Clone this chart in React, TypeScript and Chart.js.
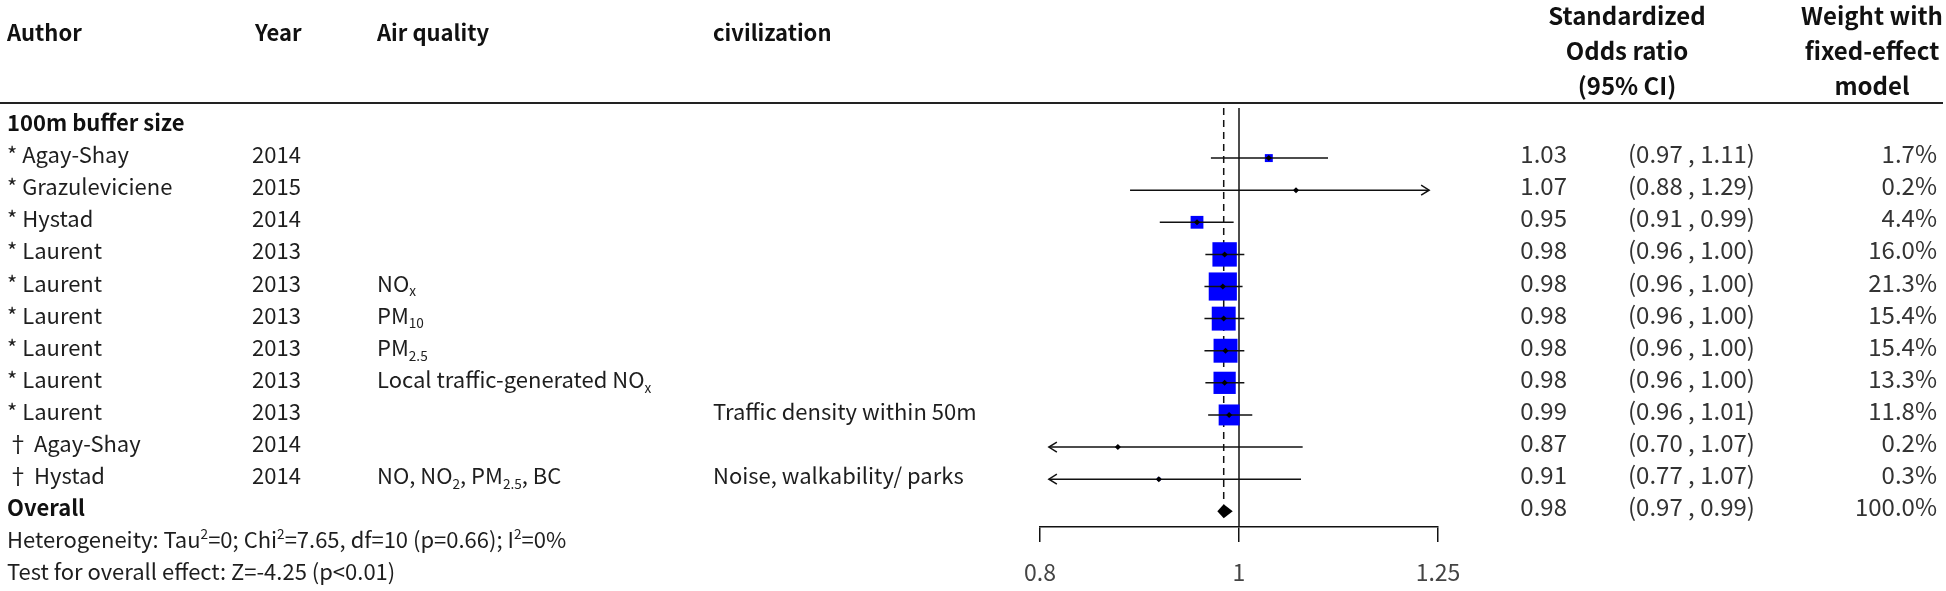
import React, { useEffect, useRef } from "react";
import { Chart, registerables } from "chart.js";

Chart.register(...registerables);

// ---------------- data ----------------
const groupLabel = "100m buffer size";
const authors = [
  "* Agay-Shay",
  "* Grazuleviciene",
  "* Hystad",
  "* Laurent",
  "* Laurent",
  "* Laurent",
  "* Laurent",
  "* Laurent",
  "* Laurent",
  "\u2020 Agay-Shay",
  "\u2020 Hystad",
];
const years = ["2014", "2015", "2014", "2013", "2013", "2013", "2013", "2013", "2013", "2014", "2014"];
const airQuality = [
  "",
  "",
  "",
  "",
  "NO_{x}",
  "PM_{10}",
  "PM_{2.5}",
  "Local traffic-generated NO_{x}",
  "",
  "",
  "NO, NO_{2}, PM_{2.5}, BC",
];
const civilization = ["", "", "", "", "", "", "", "", "Traffic density within 50m", "", "Noise, walkability/ parks"];

// plotted estimates (read from mark positions)
const oddsRatio = [1.034, 1.066, 0.954, 0.984, 0.982, 0.983, 0.985, 0.984, 0.989, 0.873, 0.914];
const ciLower = [0.969, 0.885, 0.915, 0.963, 0.962, 0.962, 0.962, 0.963, 0.966, 0.7, 0.77];
const ciUpper = [1.105, 1.29, 0.994, 1.006, 1.004, 1.006, 1.006, 1.006, 1.015, 1.074, 1.072];
const weights = [1.7, 0.2, 4.4, 16.0, 21.3, 15.4, 15.4, 13.3, 11.8, 0.2, 0.3];

// printed values
const orLabels = ["1.03", "1.07", "0.95", "0.98", "0.98", "0.98", "0.98", "0.98", "0.99", "0.87", "0.91"];
const ciLabels = [
  "(0.97 , 1.11)",
  "(0.88 , 1.29)",
  "(0.91 , 0.99)",
  "(0.96 , 1.00)",
  "(0.96 , 1.00)",
  "(0.96 , 1.00)",
  "(0.96 , 1.00)",
  "(0.96 , 1.00)",
  "(0.96 , 1.01)",
  "(0.70 , 1.07)",
  "(0.77 , 1.07)",
];

const overallLabel = "Overall";
const overallOR = 0.983;
const overallLower = 0.976;
const overallUpper = 0.993;
const overallORLabel = "0.98";
const overallCILabel = "(0.97 , 0.99)";
const overallWeight = 100.0;

const heterogeneityText = "Heterogeneity: Tau^{2}=0; Chi^{2}=7.65, df=10 (p=0.66); I^{2}=0%";
const overallTestText = "Test for overall effect: Z=-4.25 (p<0.01)";

const xTicks = [0.8, 1, 1.25];
const headerLeft = ["Author", "Year", "Air quality", "civilization"];
const headerOR = ["Standardized", "Odds ratio", "(95% CI)"];
const headerWeight = ["Weight with", "fixed-effect", "model"];

// ---------------- style ----------------
const FONT = '"Noto Sans CJK KR", "Noto Sans", sans-serif';
const W = 1946;
const H = 591;
const BOX_SCALE = 6.1;

function parseRich(text: string) {
  const parts: { t: string; k: "n" | "sub" | "sup" }[] = [];
  const re = /(_\{[^}]*\}|\^\{[^}]*\})/g;
  let last = 0;
  let m: RegExpExecArray | null;
  while ((m = re.exec(text))) {
    if (m.index > last) parts.push({ t: text.slice(last, m.index), k: "n" });
    const body = m[0].slice(2, -1);
    parts.push({ t: body, k: m[0][0] === "_" ? "sub" : "sup" });
    last = m.index + m[0].length;
  }
  if (last < text.length) parts.push({ t: text.slice(last), k: "n" });
  return parts;
}

function drawRich(
  ctx: CanvasRenderingContext2D,
  text: string,
  x: number,
  baseline: number,
  size: number,
  color: string,
  weight = "normal",
  align: "left" | "right" | "center" = "left"
) {
  const parts = parseRich(text);
  const small = size * 0.62;
  ctx.save();
  ctx.fillStyle = color;
  ctx.textBaseline = "alphabetic";
  ctx.textAlign = "left";
  const widths = parts.map((p) => {
    ctx.font = `${weight} ${p.k === "n" ? size : small}px ${FONT}`;
    return ctx.measureText(p.t).width;
  });
  const total = widths.reduce((a, b) => a + b, 0);
  let cx = align === "left" ? x : align === "right" ? x - total : x - total / 2;
  parts.forEach((p, i) => {
    ctx.font = `${weight} ${p.k === "n" ? size : small}px ${FONT}`;
    const dy = p.k === "sub" ? size * 0.22 : p.k === "sup" ? -size * 0.42 : 0;
    ctx.fillText(p.t, cx, baseline + dy);
    cx += widths[i];
  });
  ctx.restore();
}

const overallRow = authors.length + 1;

const forestPlugin = {
  id: "forest",
  beforeDatasetsDraw(chart: any) {
    const { ctx, chartArea, scales } = chart;
    const x = scales.x;
    const y = scales.y;
    ctx.save();
    ctx.strokeStyle = "#111";
    ctx.lineWidth = 1.5;
    const x1 = x.getPixelForValue(1);
    ctx.beginPath();
    ctx.moveTo(x1, chartArea.top);
    ctx.lineTo(x1, chartArea.bottom);
    ctx.stroke();
    ctx.setLineDash([7, 5]);
    const xo = x.getPixelForValue(overallOR);
    ctx.beginPath();
    ctx.moveTo(xo, chartArea.top);
    ctx.lineTo(xo, y.getPixelForValue(overallRow) - 7);
    ctx.stroke();
    ctx.restore();
  },
  afterDatasetDraw(chart: any, args: any) {
    if (args.index !== 1) return;
    const { ctx, scales } = chart;
    const x = scales.x;
    const y = scales.y;
    const minV = x.min * 1.01;
    const maxV = x.max / 1.01;
    ctx.save();
    ctx.strokeStyle = "#111";
    ctx.lineWidth = 1.5;
    authors.forEach((_, i) => {
      const py = y.getPixelForValue(i + 1);
      const lo = Math.max(ciLower[i], minV);
      const hi = Math.min(ciUpper[i], maxV);
      const pl = x.getPixelForValue(lo);
      const ph = x.getPixelForValue(hi);
      ctx.beginPath();
      ctx.moveTo(pl, py);
      ctx.lineTo(ph, py);
      ctx.stroke();
      if (ciLower[i] < x.min) {
        ctx.beginPath();
        ctx.moveTo(pl + 8, py - 5);
        ctx.lineTo(pl, py);
        ctx.lineTo(pl + 8, py + 5);
        ctx.stroke();
      }
      if (ciUpper[i] > x.max) {
        ctx.beginPath();
        ctx.moveTo(ph - 8, py - 5);
        ctx.lineTo(ph, py);
        ctx.lineTo(ph - 8, py + 5);
        ctx.stroke();
      }
    });
    ctx.restore();
  },
  afterDatasetsDraw(chart: any) {
    const { ctx, scales } = chart;
    const x = scales.x;
    const y = scales.y;
    const py = y.getPixelForValue(overallRow);
    ctx.save();
    ctx.fillStyle = "#000";
    ctx.beginPath();
    ctx.moveTo(x.getPixelForValue(overallLower), py);
    ctx.lineTo(x.getPixelForValue(overallOR), py - 7);
    ctx.lineTo(x.getPixelForValue(overallUpper), py);
    ctx.lineTo(x.getPixelForValue(overallOR), py + 7);
    ctx.closePath();
    ctx.fill();
    ctx.restore();
  },
  afterDraw(chart: any) {
    const { ctx, scales } = chart;
    const y = scales.y;
    const rowY = (r: number) => y.getPixelForValue(r);
    const HEAD = 24;
    const LHEAD = 22;
    const BODY = 22;
    const VAL = 24;
    const black = "#111";
    const body = "#1e1e1e";
    const val = "#333";

    // header rule
    ctx.save();
    ctx.strokeStyle = "#222";
    ctx.lineWidth = 2;
    ctx.beginPath();
    ctx.moveTo(0, 103);
    ctx.lineTo(1943, 103);
    ctx.stroke();
    ctx.restore();

    // headers
    const leftX = [7, 255, 377, 713];
    headerLeft.forEach((t, i) => drawRich(ctx, t, leftX[i], 41, LHEAD, black, "bold"));
    headerOR.forEach((t, i) => drawRich(ctx, t, 1627, 25 + i * 35, HEAD, black, "bold", "center"));
    headerWeight.forEach((t, i) => drawRich(ctx, t, 1872, 25 + i * 35, HEAD, black, "bold", "center"));

    // group label
    drawRich(ctx, groupLabel, 7, rowY(0) + 5, LHEAD, black, "bold");

    const colX = [7, 252, 377, 713];
    authors.forEach((a, i) => {
      const b = rowY(i + 1) + 5;
      drawRich(ctx, a, colX[0], b, BODY, body);
      drawRich(ctx, years[i], colX[1], b, BODY, body);
      if (airQuality[i]) drawRich(ctx, airQuality[i], colX[2], b, BODY, body);
      if (civilization[i]) drawRich(ctx, civilization[i], colX[3], b, BODY, body);
      drawRich(ctx, orLabels[i], 1567, b, VAL, val, "normal", "right");
      drawRich(ctx, ciLabels[i], 1628, b, VAL, val);
      drawRich(ctx, weights[i].toFixed(1) + "%", 1937, b, VAL, val, "normal", "right");
    });

    const bo = rowY(overallRow) + 5;
    drawRich(ctx, overallLabel, 7, bo, LHEAD, black, "bold");
    drawRich(ctx, overallORLabel, 1567, bo, VAL, val, "normal", "right");
    drawRich(ctx, overallCILabel, 1628, bo, VAL, val);
    drawRich(ctx, overallWeight.toFixed(1) + "%", 1937, bo, VAL, val, "normal", "right");

    drawRich(ctx, heterogeneityText, 7, rowY(overallRow + 1) + 5, BODY, body);
    drawRich(ctx, overallTestText, 7, rowY(overallRow + 2) + 5, BODY, body);
  },
};

export default function App() {
  const ref = useRef<HTMLCanvasElement | null>(null);
  useEffect(() => {
    document.body.style.margin = "0";
    document.body.style.overflow = "hidden";
    const canvas = ref.current;
    if (!canvas) return;
    const points = oddsRatio.map((v, i) => ({ x: v, y: i + 1 }));
    const boxRadius = weights.map((w) => (BOX_SCALE * Math.sqrt(w)) / Math.SQRT2);
    const chart = new Chart(canvas, {
      type: "scatter",
      data: {
        datasets: [
          {
            label: "estimate",
            data: points,
            pointStyle: "rectRot",
            pointRadius: 3,
            backgroundColor: "#000",
            borderWidth: 0,
          },
          {
            label: "weight",
            data: points,
            pointStyle: "rect",
            pointRadius: boxRadius,
            backgroundColor: "#0000ff",
            borderWidth: 0,
          },
        ],
      },
      options: {
        responsive: false,
        animation: false,
        events: [],
        layout: { padding: { left: 1040, right: W - 1438, top: 108, bottom: 0 } },
        plugins: { legend: { display: false }, tooltip: { enabled: false } },
        scales: {
          x: {
            type: "logarithmic",
            min: 0.8,
            max: 1.25,
            position: "bottom",
            afterBuildTicks: (ax: any) => {
              ax.ticks = xTicks.map((v) => ({ value: v }));
            },
            afterFit: (ax: any) => {
              ax.height = 64;
            },
            grid: { drawOnChartArea: false, drawTicks: true, tickLength: 15, color: "#111", lineWidth: 1.5 },
            border: { display: true, color: "#111", width: 1.5 },
            ticks: {
              autoSkip: false,
              maxRotation: 0,
              padding: 16,
              color: "#444",
              font: { family: FONT, size: 23 },
              callback: (v: any) => String(v),
            },
          },
          y: { type: "linear", display: false, reverse: true, min: -0.56, max: 12.49 },
        },
      },
      plugins: [forestPlugin],
    } as any);
    return () => chart.destroy();
  }, []);
  return (
    <div style={{ position: "absolute", left: 0, top: 0, width: W, height: H, background: "#fff" }}>
      <canvas ref={ref} width={W} height={H} style={{ display: "block" }} />
    </div>
  );
}
